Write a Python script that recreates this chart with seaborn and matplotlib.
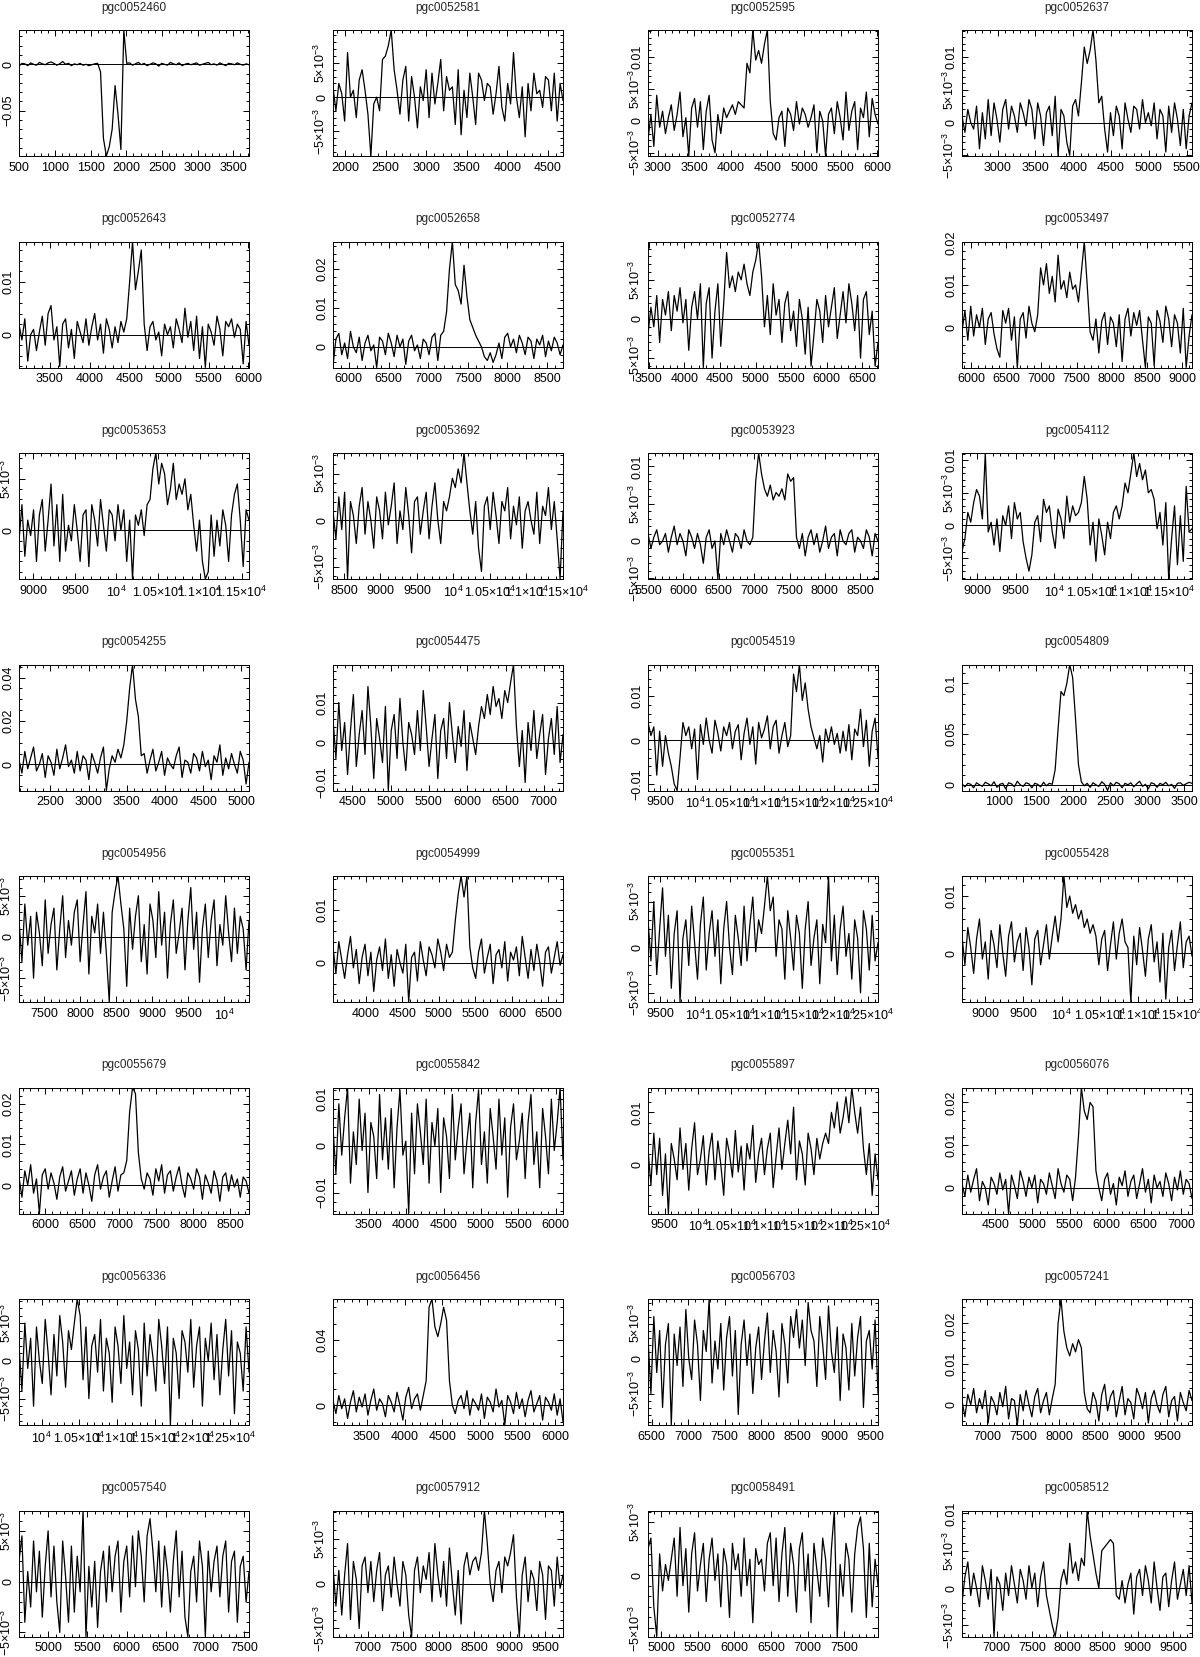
import numpy as np
import matplotlib
matplotlib.use('Agg')
import matplotlib.pyplot as plt
import seaborn as sns
from matplotlib.ticker import MultipleLocator, AutoMinorLocator, FuncFormatter

# flux lists are in units of 1e-4 Jy, sampled evenly over each velocity range
FLUX_UNIT = 1e-4

names = ['pgc0052460', 'pgc0052581', 'pgc0052595', 'pgc0052637',
         'pgc0052643', 'pgc0052658', 'pgc0052774', 'pgc0053497',
         'pgc0053653', 'pgc0053692', 'pgc0053923', 'pgc0054112',
         'pgc0054255', 'pgc0054475', 'pgc0054519', 'pgc0054809',
         'pgc0054956', 'pgc0054999', 'pgc0055351', 'pgc0055428',
         'pgc0055679', 'pgc0055842', 'pgc0055897', 'pgc0056076',
         'pgc0056336', 'pgc0056456', 'pgc0056703', 'pgc0057241',
         'pgc0057540', 'pgc0057912', 'pgc0058491', 'pgc0058512']

vel_ranges = [(495, 3720), (1850, 4685), (2870, 6010), (2530, 5570),
              (3110, 6010), (5800, 8700), (3490, 6720), (5870, 9140),
              (8830, 11590), (8350, 11500), (5500, 8750), (8800, 11800),
              (2090, 5100), (4250, 7250), (9320, 12640), (505, 3605),
              (7150, 10350), (3550, 6700), (9320, 12640), (8700, 11700),
              (5650, 8750), (3020, 6100), (9250, 12700), (4050, 7150),
              (9700, 12750), (3050, 6100), (6450, 9600), (6650, 9850),
              (4630, 7560), (6510, 9750), (4820, 7960), (6510, 9770)]

y_steps = [0.05, 5e-3, 5e-3, 5e-3,
           0.01, 0.01, 5e-3, 0.01,
           5e-3, 5e-3, 5e-3, 5e-3,
           0.02, 0.01, 0.01, 0.05,
           5e-3, 0.01, 5e-3, 0.01,
           0.01, 0.01, 0.01, 0.01,
           5e-3, 0.04, 5e-3, 0.01,
           5e-3, 5e-3, 5e-3, 5e-3]

flux_52460 = [-20, 10, 5, -15, 15, 0, -10, 20, 5, -5, 15, 25, 10, -10, 5, 30, 0, 10, -15, 5,
              -5, 10, -10, 0, -15, -5, 5, 10, -80, -800, -990, -890, -700, -230, -540, -920, 370, 10,
              15, -10, 5, 20, -5, 10, -15, 0, 15, 5, -20, 10, 0, -10, 20, 5, -5, 15, -15, 0,
              10, -5, 5, 15, -10, 0, 10, 20, -5, 5, -10, 15, 0, -15, 10, 5, -5, 15, 0, -10, 5, -5]
flux_52581 = [15, -20, 20, 5, -35, 65, 0, 10, -30, 25, 40, 10, -25, -86, -10, 0, -20, 55, 60, 75,
              98, 40, 10, -25, 25, 45, -35, 30, 0, -45, 15, -5, 40, -30, 35, -10, 20, 55, -20, 30,
              10, 15, -40, 40, -55, 10, -30, 35, 0, -40, 35, 25, -5, 20, 15, -25, 5, 45, -15, -35,
              20, -10, 65, 0, -30, 15, -58, 20, -20, 35, 5, 10, -15, 30, 25, -20, 35, -35, 20, -5]
flux_52595 = [-30, 10, -40, 40, -10, 15, -20, 5, 25, -15, 10, 45, -25, 5, -55, 20, 35, -10, 30, -45,
              15, 40, -30, -50, 10, -20, 20, 5, 15, 25, 10, 30, 25,
              20, 90, 75, 142, 95, 110, 90, 120, 142, 30, -20,
              -30, 5, 15, -40, 20, 10, -15, 30, -5, 20, 10, -10, 5, 25, -50, 15, 0, -55, 10, 20,
              -20, 30, 5, -30, 45, -15, 15, 30, -45, 20, 5, 45, -25, 35, 10, -5]
flux_52637 = [10, -15, 20, 0, -10, 25, -40, 15, -25, 35, -20, 30, 5, -30, 20, 35, -10, 25, 10, -15,
              30, 15, -5, 35, 20, -25, 30, 10, -35, 15, 25, -20, 40, -51, 20, 10, -30, -50, 25, 35, 10,
              60, 115, 90, 110, 141, 95, 30, 40, -10,
              -45, 15, -20, 25, 10, -40, 30, 5, -15, 25, 20, -10, 35, 0, 15, -5, 30, -25, 20, 10,
              -45, 25, -15, 30, 5, -35, 20, -40, 10, 30]
flux_52643 = [20, -10, 30, -50, 0, 10, -30, 5, 35, -20, 40, 55, -10, 15, -60, 20, 30, -25, 10, -45,
              25, 5, -15, 30, -20, 15, 40, -10, 20, -35, 30, 10, -25, 15, -15, 25, 5, 30,
              100, 176, 85, 120, 160, 20,
              -30, 15, 25, -10, 5, -40, 20, 0, 15, -25, 30, 10, -15, 50, -5, 25, -30, 35, -45, 15,
              -62, 20, 5, -20, 35, 10, -40, 25, 15, 30, -5, 20, 10, -55, 25, -20]
flux_52658 = [-50, 20, 35, -20, 10, -30, 40, 0, -15, 25, -35, 10, 30, -10, 5, -53, 25, 15, -20, 35,
              10, -25, 30, 0, 20, -45, 15, 30, -10, 5, -30, 20, 10, -20, 25, 35, -35, 30,
              40, 90, 200, 271, 160, 145, 110, 210, 130, 70, 50, 30, 15, 0, -25, -35, -15, -40, -20,
              10, -30, 25, 35, 0, 20, -15, 30, 10, -20, 25, 15, -30, 20, 5, 30, -25, 15, -10, 25,
              10, -20, 5]
flux_52774 = [-20, 15, -10, 30, -30, 25, 5, 35, -15, 30, 10, 40, -5, 25, -40, 15, 35, 0, 45, -62,
              20, 40, -50, 10, 45, -35,
              20, 85, 40, 55, 35, 60, 50, 70, 45, 30, 60, 75, 99, 55, -10,
              30, -20, 45, 5, 25, -30, 20, 35, -15, 10, -35, 25, 0, -45, 15, -60, -20, 25, 10, -30,
              30, -10, 15, 40, -25, 5, 35, -5, 45, 20, -15, 30, -50, 25, 35, -20, 10, -60, -30]
flux_53497 = [-10, 40, -30, 50, -20, 30, 0, 45, -40, 20, 35, -15, -50, -70, 40, 10, 45, -30, 25, -94,
              20, 35, -25, 50, 10, -10,
              30, 140, 100, 150, 80, 120, 60, 170, 90, 110, 70, 130, 90, 100, 60, 130, 202, 100, -10,
              -30, 20, -60, 15, 35, -40, 25, 10, -45, 30, -80, 20, 45, -20, 35, 5, 40, -30, -94, 25,
              10, -90, 40, 15, -35, 50, 20, -45, 30, 10, -60, 45, -94, -20, 30]

flux_53653 = [-10, 25, -25, 10, -5, 20, -30, 15, 30, -20, 10, 45, -15, 25, -30, 35, -20, 5, -10, 25,
              0, -30, 15, 20, -35, 25, 10, -15, 30, 5, -20, 20, 15, -10, 25, 0, 20, -30, 10, -47,
              15, 5, 20, -5, 25,
              30, 60, 75, 45, 65, 55, 25, 40, 65, 30, 45, 35, 50, 20, 35, 5,
              -20, 10, -30, -47, -40, 15, -25, 10, -15, 20, 5, -30, 15, 35, 45, 10, -35, 20, 10]
flux_53692 = [10, -20, 25, -10, 30, -63, 20, 5, -25, 15, 35, -15, 20, 0, -30, 25, 10, -20, 30, -5,
              15, 40, -25, 10, -10, 35, 5, -35, 20, 25, -15, 10, 30, -20, 15, 40, 0, -25, 20, 10,
              25, 45, 35, 55, 40, 72, 40, 10,
              -15, 20, -30, -55, 15, 25, -10, 30, 5, -25, 20, 10, 35, -20, 15, -5, 25, -30, 10, 20,
              0, -15, 30, -25, 15, 5, 35, -10, 20, -20, -63, 10]
flux_53923 = [10, -10, 5, 15, -5, 0, 10, -15, 5, 20, -5, 10, 0, -20, 15, 5, -10, 10, -5, -30,
              5, 15, -10, 0, -51, 10, -5, 15, 0, -15, 10, 5, -10, 15, 0, -5,
              5, 80, 118, 90, 70, 60, 75, 55, 65, 60, 70, 55, 90, 80, 85, 5,
              -10, 10, -20, 5, 15, -5, 10, -15, 0, 20, -10, 5, 10, -20, 15, 0, -5, 10, 15, -15,
              5, 0, -10, 15, 5, -20, 10, 0]
flux_54112 = [-40, -20, 20, 5, 35, 55, 45, 10, 111, -10, 5, -30, 10, -40, 15, 0, 30, -20, 35, 10,
              20, -25, -50, -70, -45, 5, 15, -25, 40, 20, 30, -10, -35, 25, 10, -20, 45, 5, 30, 15,
              20, 35, 75, 40, -30, 5, -55, 10, -15, -45, 5, -20, 20, 30, 10,
              30, 65, 50, 80, 111, 75, 95, 70, 85, 50, 55, 40, -5,
              20, -30, 35, -82, -20, 30, -60, 15, -55, 60, -10, -5]

flux_54255 = [20, -40, 60, -20, 30, 80, -30, 0, 50, -60, 40, 10, -50, 70, -20, 30, 90, -10, 20, -40,
              60, -30, 40, 20, -70, 50, 10, -40, 30, 80, -120, -20, 40, 10, 70,
              30, 90, 200, 350, 460, 300, 220, 40,
              50, -40, 20, 70, -30, 10, 60, -50, 30, 0, -20, 40, 80, -60, 20, 10, -40, 50, 30, -30,
              60, -10, 20, -70, 40, 10, 90, -50, 30, -20, 50, 0, -40, 60, 20, -90, 10]
flux_54475 = [60, -40, 100, -20, 50, -80, 30, 120, -60, 20, 80, -30, 140, 40, -90, 60, 10, -50, 90, -120,
              30, 70, -40, 110, 0, -70, 50, 20, -30, 80, -20, 130, 40, -60, 10, 70, -90, 30, 60, -40,
              100, 20, -50, 40, -10, 80, -70, 50, 10, -30,
              40, 90, 60, 120, 70, 140, 90, 110, 60, 130, 100, 150, 195, 40,
              -60, 30, -100, 50, -20, 80, -40, 20, 70, -80, 10, 60, -30, 90, -50, 20]
flux_54519 = [40, 10, 30, -80, 20, -60, 10, -30, -60, -100, -115, -40,
              40, 10, 30, -20, 25, -90, 35, -10, 50, 0, -30, 45, 15, -25, 30, 10, 40, -20,
              20, 35, -45, 15, 50, -10, 30, -55, 40, 5, 25, 55, -20, 30, 45, -30, 10, 40, -15,
              10, 150, 110, 172, 90, 130, 70, 30, 5,
              -20, 10, -50, 25, -5, 30, -10, 15, -30, 20, -25, 35, -45, 25, 10, 70, -15, 45, -60, 20,
              50, -40]
flux_54809 = [10, -20, 15, 5, -30, 20, 0, -15, 25, 10, -10, 30, -25, 5, 15, -40, 20, 10, -20, 35,
              0, -15, 20, 10, -30, 15, 5, -20, 25, -10, 15,
              5, 150, 550, 920, 880, 1000, 1187, 1060, 650, 200, 30, -10,
              15, -25, 20, 0, -15, 30, 5, -56, 20, -10, 25, 10, -30, 15, 0, 20, -20, 10, 35, -15,
              5, -40, 20, 10, -25, 15, 0, 25, -10, 5, -35, 15, 20, -5, 10, 25, 15]

flux_54956 = [20, -30, 40, -10, 25, -50, 30, 5, -35, 45, -20, 15, 35, -40, 10, 50, -25, 20, -10, 30,
              45, -30, 15, 55, -45, 25, 5, 40, -20, 30, -20, -79, 30, 55, 74, 40,
              10, -60, 35, -15, 25, 50, -30, 15, -45, 40, 20, -25, 55, -10, 30, -50, 15, 45, -20, 5,
              35, -40, 20, 60, -15, 30, -55, 10, 40, -25, 20, 45, -35, 15, -10, 50, 5, -30, 35, -20,
              25, 10, -40, 20]
flux_54999 = [30, -20, 40, 5, -30, 15, 50, -10, 25, -40, 10, 35, -25, 20, -55, 5, 30, -15, 45, -30,
              15, -45, 25, 0, -20, 35, -75, 10, 20, -35, 40, 5, -25, 30, 15, -10, 45, 20, -15, 35, 10,
              20, 80, 130, 165, 125, 165, 30, -10,
              -30, 20, 45, -20, 10, 35, -40, 15, 25, -10, 40, -35, 20, 5, 30, -25, 50, 10, -30, 25,
              -15, 35, 0, -45, 20, 30, -20, 10, 40, -5, 15]
flux_55351 = [30, -15, 50, -30, 20, 65, -10, 35, -45, 15, 40, -60, 10, 30, -20, 45, 5, -35, 25, 55,
              -25, 15, 40, -10, 30, -40, 20, 50, 0, -30, 35, 10, -20, 45, -15, 25, 55, -5, 30, 15,
              45, 78, 40, 55, -10, 30, 20, -35, 40, 10, -25, 35, 15, -45, 20, 50, -20, 10, 30, -40,
              25, 5, 78, -15, 35, -30, 20, 45, -10, 15, -35, 30, 10, -50, 40, 20, -25, 35, -15, 5]
flux_55428 = [30, -20, 45, 10, -35, 25, 60, -10, 20, -45, 40, 15, -25, 50, 0, -40, 30, 55, -15, 20,
              35, -30, 45, 10, -55, 25, 40, -20, 15, 50, -10, 30, 65, 20,
              60, 135, 80, 100, 70, 85, 60, 75, 45, 60, 35, 50, 30,
              -20, 25, 40, -30, 15, 55, -10, 35, 60, 20, 10, -85, 30, -20, 45, 5, -40, 25, 50, -15,
              20, -50, 35, -80, 10, 40, -30, 15, 55, -25, 20, 30, -5]

flux_55679 = [20, -30, 35, 0, 50, -20, 15, -70, 25, 40, -10, 30, 5, -35, 20, 45, -15, 10, 35, -25,
              15, 40, -20, 30, 0, -40, 25, 50, -10, 20, 35, -30, 10, 45, -15, 25, 30,
              60, 180, 240, 225, 80, 15,
              -10, 30, 15, -25, 40, 10, 50, -20, 25, 35, -15, 20, 45, 0, -30, 30, 15, -10, 40, 20,
              -35, 25, 5, -20, 35, 10, -40, 20, 30, -15, 25, -5, 15, -30, 20, 10, -20]
flux_55842 = [40, -60, 90, -20, 60, 125, -80, 30, -40, 100, -10, 70, -100, 50, 20, -70, 110, -30, 60, -50,
              80, -90, 40, 120, -20, 10, -145, 70, -60, 90, 30, -40, 100, -80, 50, 0, 80, -100, 60, 20,
              -70, 110, -30, 40, 90, -60, 10, 70, -90, 50, 120, -40, 30, -80, 80, 20, -50, 100, -20, 60,
              -110, 40, 90, -30, 10, 70, -70, 50, 110, -40, 30, -90, 80, 20, -60, 100, -10, 50, 125, -30]
flux_55897 = [30, -40, 60, -20, 50, -60, 20, -95, 40, 10, -30, 70, -10, 40, -50, 30, 80, -20, 10, 55,
              -40, 25, 60, -30, 45, 0, -60, 50, 20, -25, 65, -15, 35, -50, 40, 10, 75, -35, 20, 50,
              -20, 30, 60, -45, 15, 70, -10, 40, 85, 20, 110, -30, 45, 20, -40, 60, 30, -20, 50, 10, 40,
              60, 40, 100, 70, 120, 60, 90, 130, 80, 148, 100, 60, 110, 30, -20,
              40, -60, 20, -30]
flux_56076 = [10, -20, 30, -10, 20, 45, -30, 15, 0, -40, 25, 10, -15, 35, -5, 20, -60, 30, 5, -25,
              40, 15, -20, 25, 0, 30, -35, 20, 10, -15, 35, 5, -25, 45, 10, -10, 30, 20, -30, 25,
              120, 235, 180, 160, 200, 190, 40, 0,
              -30, 20, 35, -15, 10, -40, 25, 5, 40, -20, 15, 30, -25, 10, 45, -10, 20, -35, 30, 0,
              15, -20, 35, 10, -30, 25, -5, 40, -15, 20, 10, -25]

flux_56336 = [20, -40, 50, -10, 30, -60, 45, 0, -30, 55, 10, -45, 35, -20, 60, 25, -35, 40, 15, 50,
              82, 60, -25, 45, -50, 20, 35, -15, 55, -40, 30, 10, -55, 45, 20, -30, 60, -10, 25, -45,
              40, 15, -60, 50, -20, 35, 5, -40, 55, 20, -30, 45, -85, 30, 10, -50, 40, 25, -15, 55,
              -35, 20, 45, -60, 30, 0, 50, -25, 35, -45, 15, 55, -20, 40, -70, 25, 10, -40, 45, -15]
flux_56456 = [30, -50, 60, -20, 40, -80, 20, 90, -40, 50, -10, 70, -60, 30, 100, -30, 40, 10, -70, 60,
              20, -40, 80, 0, -90, 50, 110, -20, 40, 70, -30, 60,
              150, 600, 650, 480, 420, 500, 600, 520, 150, 0,
              -50, 30, 60, -20, 90, -60, 40, 10, -30, 70, -80, 50, 20, -40, 100, -10, 30, -120, 60, 20,
              -50, 80, -20, 40, -70, 30, 90, -40, 10, 60, -90, 50, 20, -30, 70, -60, 40, -100]
flux_56703 = [30, -50, 60, -20, 40, -70, 20, 50, -95, 35, -10, 45, -40, 70, 0, -30, 55, 20, -60, 40,
              10, 85, -35, 25, -15, 50, -45, 30, 60, -25, 40, -80, 20, 55, -10, 35, -50, 15, 45, -30,
              25, 65, -20, 40, 10, -55, 50, 20, -35, 60, 30, 70, 15, 55, -10, 80, 40, 25, -40, 60,
              20, -30, 75, 10, -20, 45, -60, 35, 15, -45, 50, -25, 30, 60, -70, 25, 40, -15, 55, -50]
flux_57241 = [10, -30, 25, 0, 40, -20, 15, -10, 35, -45, 20, 5, -25, 30, -5, 45, -35, 15, 10, -50,
              25, -15, 35, 0, -30, 20, 40, -20, 10, 30, -25, 15, 50,
              200, 260, 180, 140, 120, 150, 130, 160, 140, 30, -10,
              -20, 30, 10, -40, 25, 50, -15, 20, 35, -30, 10, 45, -25, 15, 5, -35, 40, 20, -10, 30,
              -45, 15, 35, 0, -20, 25, 45, -30, 10, 20, -40, 30, 5, -15, 35, 10]

flux_57540 = [20, 45, -40, 10, -25, 40, -10, 30, -35, 15, 50, -15, 35, -20, -50, 40, 5, -40, 35, -30,
              25, -10, 70, -54, 15, -25, 20, -45, 10, 30, -20, 35, -10, 25, 40, -30, 20, 35, -15, 45,
              -5, 50, 25, -20, 45, 62, 30, -10, 40, -25, 35, 10, -30, 20, 50, -15, 30, -35, -54, 10,
              25, -20, 40, 15, -54, 30, -10, 20, 35, -15, 25, 40, -30, 20, 30, -40, 15, 25, -20, 10]
flux_57912 = [20, -25, 15, -35, 10, 45, -40, 25, 5, -50, 20, 30, -10, 25, -20, 15, 35, -30, 10, 20,
              -15, 30, 0, -25, 25, 10, -35, -59, 15, 30, -10, 20, 5, 35, -20, 45, 10, -15, 25, -25,
              40, 0, -35, 15, -45, 20, 35, 10, 25, 30, 15, 35, 82, 45,
              0, -20, 15, 25, -10, 30, 20, 35, 55, -15, -59, 10, 30, -20, 15, 5, -30, 25, 10, -40,
              20, 15, -25, 30, -5, 10]
flux_58491 = [25, 35, -30, -58, 20, -15, 10, -5, 15, 35, -20, 45, -10, 25, -35, 20, 40, -15, 10, 30,
              -25, 15, 35, -5, 20, -30, 25, 10, -40, 30, 5, 20, -20, 35, -10, 15, -45, 25, 10, 15,
              -15, 30, 40, -10, 35, -25, 20, 45, -20, 30, 10, -35, 25, 40, -15, 20, -45, 30, 5, -20,
              35, 15, -30, 25, 61, -58, 10, -20, 30, 15, -35, 20, 45, 55, 25, -40, 30, -30, 15, -10]
flux_58512 = [-20, 15, 35, -10, 20, 0, -25, 30, 10, -15, 25, -65, 15, 5, -30, 20, -10, 30, 5, -20,
              25, 10, -15, 30, 0, 20, -25, 15, 35, -10, -30, -50, -65, -40,
              10, 25, 5, 60, 20, 35, 10, 40, 30,
              104, 70, 45, 20, 0, 50, 55, 60, 65, 60, -10,
              -15, 10, -20, 5, 20, -35, 15, 25, -10, 30, 10, -20, 35, 0, -30, 15, 20, -25, 10, 35,
              -15, 5, 25, -10, 30, -20]

spectra = [flux_52460, flux_52581, flux_52595, flux_52637,
           flux_52643, flux_52658, flux_52774, flux_53497,
           flux_53653, flux_53692, flux_53923, flux_54112,
           flux_54255, flux_54475, flux_54519, flux_54809,
           flux_54956, flux_54999, flux_55351, flux_55428,
           flux_55679, flux_55842, flux_55897, flux_56076,
           flux_56336, flux_56456, flux_56703, flux_57241,
           flux_57540, flux_57912, flux_58491, flux_58512]


def pg_label(v, pos=None):
    """PGPLOT-like tick labels: 0.01, 5x10^-3, 10^4, 1.05x10^4"""
    a = abs(v)
    if a < 1e-9:
        return '0'
    if a >= 9999.5 or a < 9.99e-3:
        e = int(np.floor(np.log10(a) + 1e-9))
        m = round(v / 10.0 ** e, 3)
        if m == 1:
            return r'$\mathregular{10^{%d}}$' % e
        return r'$\mathregular{%g{\times}10^{%d}}$' % (m, e)
    return ('%g' % round(v, 6)).replace('-', '\u2212')


sns.set_style('ticks')
plt.rcParams['font.family'] = ['Liberation Sans', 'DejaVu Sans']
plt.rcParams['mathtext.fontset'] = 'custom'
plt.rcParams['mathtext.rm'] = 'Liberation Sans'

W, H = 1200, 1657
fig = plt.figure(figsize=(W / 100, H / 100), dpi=100)
col_left = [19, 333, 648, 962]

for k, name in enumerate(names):
    r, c = divmod(k, 4)
    top = 30 + 211.5 * r
    ax = fig.add_axes([col_left[c] / W, 1 - (top + 126) / H, 230 / W, 126 / H])

    flux = np.array(spectra[k]) * FLUX_UNIT
    vel = np.linspace(vel_ranges[k][0], vel_ranges[k][1], len(flux))

    sns.lineplot(x=vel, y=flux, ax=ax, color='black', linewidth=0.9)
    ax.axhline(0, color='black', linewidth=0.7)
    ax.set_xlim(vel_ranges[k])
    ax.set_ylim(flux.min(), flux.max())

    step = y_steps[k]
    nsub = 4 if round(step / 10 ** np.floor(np.log10(step)), 3) in (2, 4) else 5
    ax.xaxis.set_major_locator(MultipleLocator(500))
    ax.xaxis.set_minor_locator(AutoMinorLocator(5))
    ax.yaxis.set_major_locator(MultipleLocator(step))
    ax.yaxis.set_minor_locator(AutoMinorLocator(nsub))
    ax.xaxis.set_major_formatter(FuncFormatter(pg_label))
    ax.yaxis.set_major_formatter(FuncFormatter(pg_label))

    ax.tick_params(which='both', direction='in', top=True, right=True, width=0.7, colors='black')
    ax.tick_params(which='major', length=4)
    ax.tick_params(which='minor', length=2)
    ax.tick_params(axis='x', labelsize=9, pad=4)
    ax.tick_params(axis='y', labelsize=9, pad=3.5, labelrotation=90)
    for lbl in ax.get_yticklabels():
        lbl.set_va('center')
    for s in ax.spines.values():
        s.set_linewidth(0.7)
        s.set_color('black')

    ax.set_xlabel('')
    ax.set_ylabel('')
    ax.set_title(name, fontsize=8.5, pad=14)

fig.savefig('out.png', dpi=100)
